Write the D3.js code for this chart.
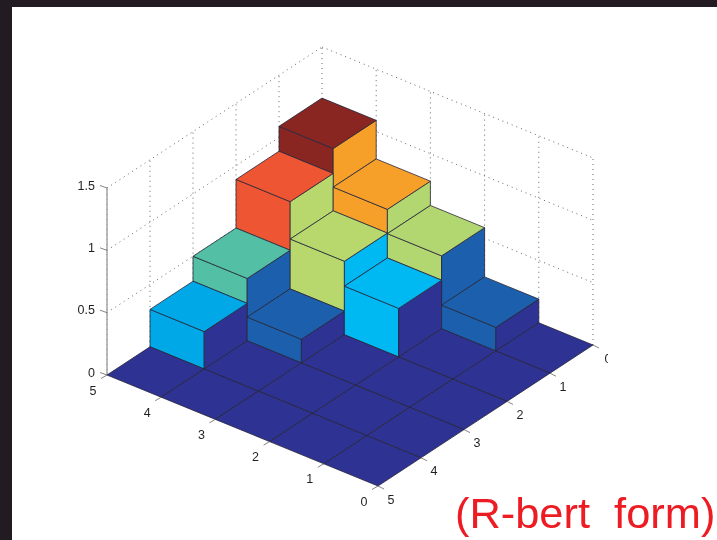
<!DOCTYPE html>
<html>
<head>
<meta charset="utf-8">
<script src="https://cdn.jsdelivr.net/npm/d3@7"></script>
<style>
  html, body { margin: 0; padding: 0; background: #fff; overflow: hidden; }
  text { font-family: "Liberation Sans", Arial, sans-serif; }
</style>
</head>
<body>
<div id="chart"></div>
<script>
// bar heights, one list per row of the x axis (row 0 is nearest the viewer)
const row0 = [0, 0, 0, 0, 0];
const row1 = [0.19, 0, 0, 0, 0];
const row2 = [0.585, 0.39, 0, 0, 0];
const row3 = [0.78, 0.59, 0.19, 0, 0];
const row4 = [1.09, 0.89, 0.5, 0.3, 0];
const heights = [row0, row1, row2, row3, row4];

const xTicks = [0, 1, 2, 3, 4, 5];
const yTicks = [0, 1, 2, 3, 4, 5];
const zTicks = [0, 0.5, 1, 1.5];
const zTickLabels = ['0', '0.5', '1', '1.5'];

const colorStops = [0, 0.19, 0.3, 0.39, 0.5, 0.59, 0.78, 0.89, 1.09];
const colorValues = ['#2e3192', '#1b60ad', '#00a8e8', '#00b9f2', '#52bfa4', '#b8d76d', '#f6a02a', '#ee5530', '#8a2724'];

const noteText = '(R-bert  form)';

const width = 717, height = 540;

const svg = d3.select('#chart').append('svg')
  .attr('width', width)
  .attr('height', height)
  .style('display', 'block');

// the reference is a slightly soft scan, so everything gets a small blur
const soft = svg.append('filter').attr('id', 'soft')
  .attr('x', 0).attr('y', 0).attr('width', 1).attr('height', 1);
soft.append('feGaussianBlur').attr('stdDeviation', 0.35);

const page = svg.append('g').attr('filter', 'url(#soft)');
page.append('rect').attr('width', width).attr('height', height).attr('fill', '#fff');

// dark border the screenshot has along the top and left
page.append('rect').attr('width', width).attr('height', 7).attr('fill', '#231f20');
page.append('rect').attr('width', 12).attr('height', height).attr('fill', '#231f20');

// the oblique view: each data axis moves the point along its own screen direction
const xToLeft = d3.scaleLinear().domain([0, 5]).range([271, 0]);
const xToDown = d3.scaleLinear().domain([0, 5]).range([111, 0]);
const yToLeft = d3.scaleLinear().domain([0, 5]).range([0, -215]);
const yToDown = d3.scaleLinear().domain([0, 5]).range([0, 141]);
const zToUp = d3.scaleLinear().domain([0, 1.5]).range([0, 187]);
const origin = [322, 234];

function project(x, y, z) {
  return [
    origin[0] + xToLeft(x) + yToLeft(y),
    origin[1] + xToDown(x) + yToDown(y) - zToUp(z)
  ];
}

const color = d3.scaleLinear().domain(colorStops).range(colorValues);
const line = d3.line();

// back walls
const grid = page.append('g')
  .attr('fill', 'none')
  .attr('stroke', '#666')
  .attr('stroke-width', 1)
  .attr('stroke-dasharray', '1 4');

function gridLine(a, b) {
  grid.append('path').attr('d', line([project(...a), project(...b)]));
}
const zTop = zTicks[zTicks.length - 1];
xTicks.forEach(x => {
  if (x < 5) gridLine([x, 0, 0], [x, 0, zTop]);
});
yTicks.forEach(y => {
  if (y > 0) gridLine([5, y, 0], [5, y, zTop]);
});
gridLine([5, 0, 0], [5, 0, zTop]);
zTicks.forEach(z => {
  if (z > 0) {
    gridLine([5, 5, z], [5, 0, z]);
    gridLine([5, 0, z], [0, 0, z]);
  }
});

// grey z axis line on the left corner
page.append('path')
  .attr('d', line([project(5, 5, 0), project(5, 5, zTop)]))
  .attr('stroke', '#aaa')
  .attr('stroke-width', 1.6)
  .attr('fill', 'none');

// bars, painted from the far corner to the near one
const bars = page.append('g')
  .attr('stroke', '#26263a')
  .attr('stroke-width', 0.8)
  .attr('stroke-linejoin', 'round');

function face(points, fill) {
  bars.append('path')
    .attr('d', line(points.map(p => project(...p))) + 'Z')
    .attr('fill', fill);
}

for (let i = 4; i >= 0; i--) {
  for (let j = 0; j < 5; j++) {
    const h = heights[i][j];
    const nextY = j < 4 ? heights[i][j + 1] : 0;
    const nextX = i > 0 ? heights[i - 1][j] : 0;
    // wall along x takes the colour of its own bar
    if (h > nextY) {
      face([[i, j + 1, h], [i + 1, j + 1, h], [i + 1, j + 1, nextY], [i, j + 1, nextY]], color(h));
    }
    // wall along y takes the colour of the cell in front of it
    if (h > nextX) {
      face([[i, j, h], [i, j + 1, h], [i, j + 1, nextX], [i, j, nextX]], color(nextX));
    }
    face([[i, j, h], [i + 1, j, h], [i + 1, j + 1, h], [i, j + 1, h]], color(h));
  }
}

// ticks and labels, the 0 at the far right is cut off in the reference
svg.append('clipPath').attr('id', 'plotClip')
  .append('rect').attr('x', 0).attr('y', 0).attr('width', 608).attr('height', height);

const axes = page.append('g')
  .attr('clip-path', 'url(#plotClip)')
  .attr('font-size', 12.5)
  .attr('fill', '#231f20');

function tick(p, dx, dy) {
  axes.append('line')
    .attr('x1', p[0]).attr('y1', p[1])
    .attr('x2', p[0] + dx).attr('y2', p[1] + dy)
    .attr('stroke', '#666')
    .attr('stroke-width', 0.8);
}

xTicks.forEach(x => {
  const p = project(x, 5, 0);
  tick(p, -6, 3.5);
  axes.append('text')
    .attr('x', p[0] - 14).attr('y', p[1] + 15)
    .attr('text-anchor', 'middle').attr('dy', '0.36em')
    .text(x);
});

yTicks.forEach(y => {
  const p = project(0, y, 0);
  tick(p, 6, 3);
  axes.append('text')
    .attr('x', p[0] + (y === 0 ? 15 : 13)).attr('y', p[1] + 13)
    .attr('text-anchor', 'middle').attr('dy', '0.36em')
    .text(y);
});

zTicks.forEach((z, k) => {
  const p = project(5, 5, z);
  tick(p, -7, -2.5);
  axes.append('text')
    .attr('x', p[0] - 12).attr('y', p[1] - 3)
    .attr('text-anchor', 'end').attr('dy', '0.36em')
    .text(zTickLabels[k]);
});

// red note in the bottom right corner
page.append('text')
  .attr('x', 455)
  .attr('y', 528)
  .attr('font-size', 43.4)
  .attr('fill', '#ed1c24')
  .style('white-space', 'pre')
  .text(noteText);
</script>
</body>
</html>
